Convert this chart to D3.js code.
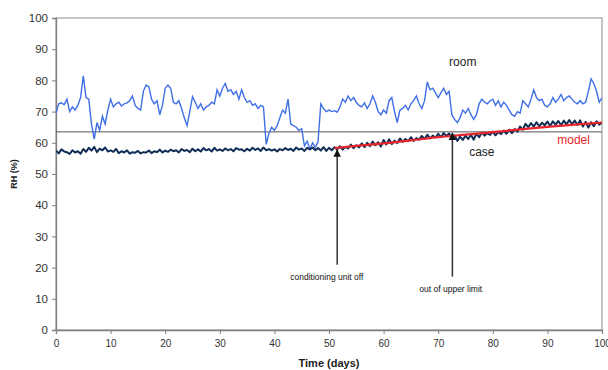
<!DOCTYPE html>
<html><head><meta charset="utf-8">
<script src="https://cdn.jsdelivr.net/npm/d3@7"></script>
<style>
body{margin:0;background:#fff;}
svg text{font-family:"Liberation Sans",Arial,sans-serif;}
</style></head>
<body><svg id="c" width="608" height="370"></svg>
<script>
// ---- data ----
const xTicks = [0,10,20,30,40,50,60,70,80,90,100];
const yTicks = [0,10,20,30,40,50,60,70,80,90,100];
const step = 0.5; // days between readings
const roomRH = [69.5,72.5,72.8,72.2,74.0,70.0,71.5,70.5,72.0,74.5,81.5,74.5,74.0,66.0,61.2,66.5,64.0,68.5,66.0,70.5,
74.0,71.5,72.5,73.0,71.8,72.5,72.8,73.5,75.0,72.0,71.0,70.5,76.5,78.5,78.0,74.0,72.5,73.5,69.0,72.0,
77.5,78.5,77.5,73.0,72.5,73.5,71.0,68.0,65.5,70.0,74.8,73.0,71.0,72.5,70.5,71.5,72.0,73.0,72.5,77.0,
75.0,77.5,79.0,76.5,77.0,75.5,76.5,74.0,77.0,74.5,73.0,73.5,72.0,72.5,71.0,72.0,71.5,59.5,63.0,65.0,
64.0,65.5,68.0,70.5,69.5,74.0,66.0,65.5,65.0,64.0,64.5,59.0,60.5,58.0,60.0,58.5,60.5,72.5,71.0,70.0,
70.5,70.0,70.3,69.8,71.5,74.0,73.0,75.0,73.5,74.5,73.0,72.0,71.5,72.8,71.0,72.5,75.0,73.0,70.0,69.0,
70.5,69.5,73.5,74.5,70.0,66.5,70.5,71.0,72.0,70.5,72.5,73.5,75.0,72.5,71.0,73.5,79.5,77.0,77.5,76.0,
74.5,76.0,77.5,75.5,76.5,69.0,67.5,66.5,68.0,70.5,69.5,71.0,69.0,67.5,69.0,72.5,74.0,73.0,72.5,73.5,
74.0,72.0,73.5,71.5,73.0,72.0,70.5,69.0,68.5,70.0,69.5,73.5,72.5,71.5,74.0,77.0,74.5,73.5,74.0,72.0,
71.5,72.5,74.5,73.0,74.0,75.5,73.5,74.5,75.0,74.0,73.0,72.5,73.5,72.5,73.0,76.5,80.5,79.0,76.5,73.0,74.5];
const caseRH = [57.5,56.6,57.9,57.2,57.0,56.4,57.6,56.9,57.3,56.5,58.0,57.1,58.4,57.5,58.7,57.0,58.1,57.6,58.5,57.2,
57.6,57.1,58.0,56.7,57.3,56.9,57.6,56.5,57.0,56.8,57.4,56.6,57.0,56.9,57.5,56.7,57.3,57.0,57.8,56.9,
57.5,57.1,57.8,57.3,57.6,56.9,58.0,57.4,57.7,57.0,58.1,57.3,57.9,57.2,58.3,57.6,58.0,57.2,58.4,57.5,
57.9,57.4,58.2,57.6,58.0,57.3,58.3,57.8,57.9,57.3,58.1,57.5,58.4,57.7,58.2,57.4,58.5,57.6,58.0,57.5,
57.9,57.2,58.0,57.6,58.3,57.7,58.1,57.4,58.5,57.8,58.2,57.4,58.4,57.9,58.5,57.6,58.3,57.5,58.6,57.4,58.4,
57.6,58.6,57.9,58.9,57.8,58.7,58.2,59.4,58.3,59.2,58.5,59.8,58.6,60.0,58.9,60.4,59.2,60.2,58.8,60.9,
59.5,61.1,59.6,60.7,59.9,61.4,60.3,61.2,60.5,61.8,60.6,61.5,61.0,62.2,61.2,62.6,61.4,62.3,61.7,62.9,
61.8,63.1,62.2,63.0,61.5,62.4,60.6,62.0,60.9,62.3,61.2,62.6,61.0,62.9,61.8,63.3,62.3,63.1,62.5,63.6,
62.4,63.5,62.8,63.9,62.9,64.2,63.1,64.4,63.6,65.2,64.2,66.1,65.0,66.3,65.2,66.6,65.3,66.4,65.6,66.8,
65.4,66.9,65.8,67.0,65.6,67.1,65.9,67.3,66.0,67.1,65.7,67.2,65.2,66.7,64.9,66.6,65.3,66.9,65.8,66.6];
const modelDays = [51,55,60,65,70,75,80,85,90,95,100];
const modelRH   = [58.3,59.0,59.8,60.8,61.8,62.6,63.4,64.3,65.1,65.8,66.5];
const upperLimit = 63.5;
const events = [
  {day:51.5, tip:57.9, base:20.9, label:"conditioning unit off", labelDay:49.6, labelY:16.0},
  {day:72.6, tip:63.3, base:17.1, label:"out of upper limit", labelDay:72.3, labelY:12.3}
];
const seriesLabels = [
  {text:"room", day:74.5, v:84.5, color:"#222"},
  {text:"case", day:78.0, v:55.8, color:"#222"},
  {text:"model", day:94.8, v:59.7, color:"#e8252b"}
];

// ---- layout ----
const svg = d3.select("#c");
const L=56, R=602, T=18, B=330;
const x = d3.scaleLinear().domain([0,100]).range([L,R]);
const y = d3.scaleLinear().domain([0,100]).range([B,T]);

svg.append("rect").attr("x",L).attr("y",T).attr("width",R-L).attr("height",B-T)
  .attr("fill","none").attr("stroke","#a0a0a0").attr("stroke-width",1.2);

const ya = svg.append("g").attr("transform",`translate(${L},0)`)
  .call(d3.axisLeft(y).tickValues(yTicks).tickSize(4).tickPadding(4));
const xa = svg.append("g").attr("transform",`translate(0,${B})`)
  .call(d3.axisBottom(x).tickValues(xTicks).tickSize(4).tickPadding(6));
[ya,xa].forEach(g=>{
  g.select(".domain").attr("stroke","#808080").attr("stroke-width",1.3);
  g.selectAll(".tick line").attr("stroke","#808080");
  g.selectAll(".tick text").attr("fill","#333").style("font-size","11.5px");
});
xa.selectAll(".tick text").style("font-size","10px");

svg.append("line").attr("x1",x(0)).attr("x2",x(100)).attr("y1",y(upperLimit)).attr("y2",y(upperLimit))
  .attr("stroke","#555").attr("stroke-width",1);

svg.append("clipPath").attr("id","pc").append("rect")
  .attr("x",L).attr("y",T).attr("width",R-L).attr("height",B-T);

const line = d3.line().x(d=>x(d[0])).y(d=>y(d[1]));
const roomPts = roomRH.map((v,i)=>[i*step,v]);
const casePts = caseRH.map((v,i)=>[i*step,v]);
const modelPts = modelDays.map((d,i)=>[d,modelRH[i]]);

svg.append("path").datum(roomPts).attr("d",line).attr("fill","none")
  .attr("stroke","#3f6fe6").attr("stroke-width",1.4).attr("clip-path","url(#pc)");
svg.append("path").datum(casePts).attr("d",line).attr("fill","none")
  .attr("stroke","#0f2d55").attr("stroke-width",2.0).attr("stroke-linejoin","round").attr("clip-path","url(#pc)");
svg.append("path").datum(modelPts).attr("d",d3.line().x(d=>x(d[0])).y(d=>y(d[1])).curve(d3.curveMonotoneX))
  .attr("fill","none").attr("stroke","#e8252b").attr("stroke-width",2.2);

const defs = svg.append("defs");
defs.append("marker").attr("id","ah").attr("viewBox","0 0 10 10").attr("refX",10).attr("refY",5)
  .attr("markerWidth",5).attr("markerHeight",5).attr("orient","auto")
  .append("path").attr("d","M0,0 L10,5 L0,10 z").attr("fill","#111");
events.forEach(e=>{
  svg.append("line").attr("x1",x(e.day)).attr("x2",x(e.day)).attr("y1",y(e.base)).attr("y2",y(e.tip))
    .attr("stroke","#333").attr("stroke-width",1.5).attr("marker-end","url(#ah)");
  svg.append("text").attr("x",x(e.labelDay)).attr("y",y(e.labelY)).attr("text-anchor","middle")
    .attr("fill","#111").style("font-size","8.5px").text(e.label);
});

seriesLabels.forEach(s=>{
  svg.append("text").attr("x",x(s.day)).attr("y",y(s.v)).attr("text-anchor","middle")
    .attr("fill",s.color).style("font-size","12px").text(s.text);
});

svg.append("text").attr("transform",`translate(17,${(T+B)/2}) rotate(-90)`).attr("text-anchor","middle")
  .style("font-size","9px").style("font-weight","bold").attr("fill","#222").text("RH (%)");
svg.append("text").attr("x",(L+R)/2).attr("y",367).attr("text-anchor","middle")
  .style("font-size","11px").style("font-weight","bold").attr("fill","#222").text("Time (days)");
</script></body></html>
